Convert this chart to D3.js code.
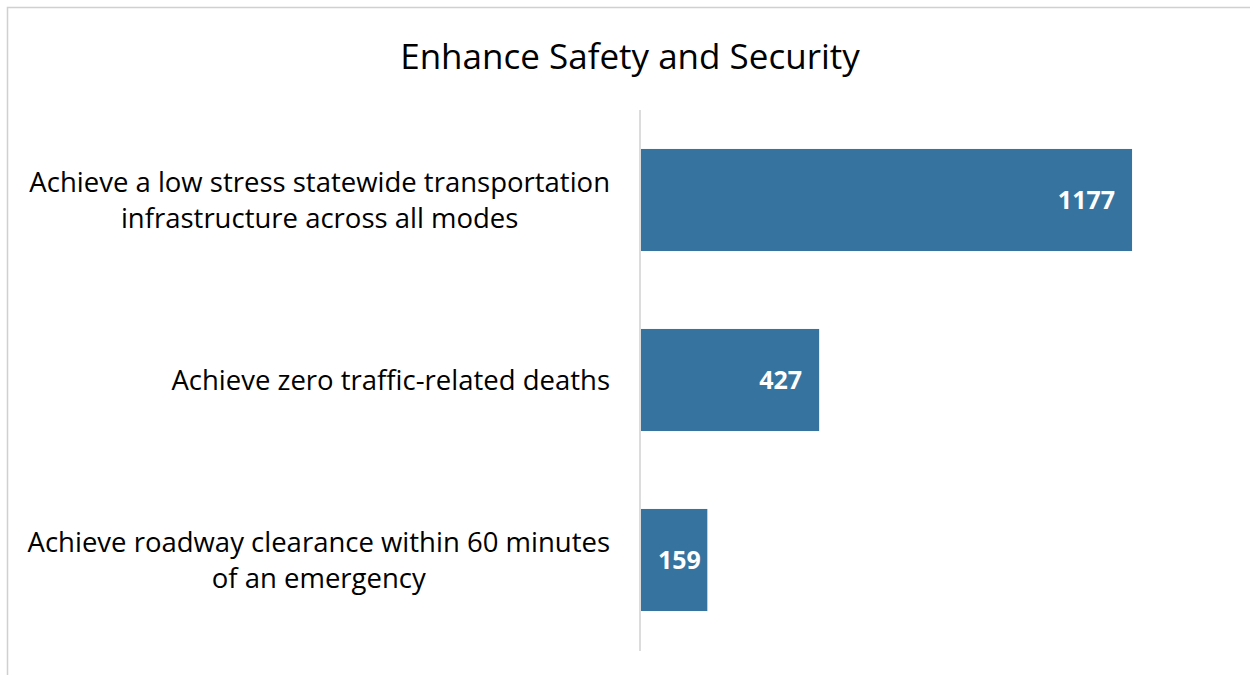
<!DOCTYPE html>
<html>
<head>
    <script src="https://cdn.jsdelivr.net/npm/d3@7"></script>
    <style>
        body { margin: 0; background: #fff; }
        svg { display: block; font-family: "Open Sans", "Noto Sans", sans-serif; }
    </style>
</head>
<body>
    <svg id="mainsvg"></svg>
    <script type="text/javascript">
    // data
    const categories = [
        ["Achieve a low stress statewide transportation", "infrastructure across all modes"],
        ["Achieve zero traffic-related deaths"],
        ["Achieve roadway clearance within 60 minutes", "of an emergency"]
    ];
    const values = [1177, 427, 159];
    const title = "Enhance Safety and Security";

    // chart settings
    const width = 1250, height = 675;
    const barColor = "#36739f";

    const svg = d3.select("#mainsvg")
        .attr("width", width)
        .attr("height", height);

    // frame
    svg.append("rect")
        .attr("x", 7.5).attr("y", 7.5)
        .attr("width", width + 10).attr("height", height + 10)
        .attr("fill", "none")
        .attr("stroke", "#d0d0d0")
        .attr("stroke-width", 1.5);

    svg.append("text")
        .attr("x", 630).attr("y", 57)
        .attr("dy", "0.35em")
        .attr("text-anchor", "middle")
        .attr("font-size", 35)
        .attr("fill", "#000")
        .text(title);

    // scales
    const x = d3.scaleLinear([0, 1400], [641, 641 + 1400 * 0.4172]);
    const y = d3.scaleBand()
        .domain(d3.range(values.length))
        .range([110, 650])
        .paddingInner(0.433)
        .paddingOuter(0.2165);

    // bars
    svg.append("g")
        .selectAll("rect")
        .data(values)
        .join("rect")
        .attr("x", x(0))
        .attr("y", (d, i) => y(i))
        .attr("width", d => x(d) - x(0))
        .attr("height", y.bandwidth())
        .attr("fill", barColor);

    // axis line
    svg.append("line")
        .attr("x1", 640).attr("x2", 640)
        .attr("y1", 110).attr("y2", 651)
        .attr("stroke", "#d0d0d0")
        .attr("stroke-width", 1.5);

    // category labels: block right-aligned at 610, lines centred in block
    const lh = 36, labelRight = 610;
    svg.append("g")
        .selectAll("text")
        .data(categories)
        .join("text")
        .attr("text-anchor", "middle")
        .attr("font-size", 27.5)
        .attr("fill", "#000")
        .each(function(lines, i) {
            const cy = y(i) + y.bandwidth() / 2;
            const t = d3.select(this);
            const spans = lines.map((line, j) => t.append("tspan")
                .attr("y", cy + (j - (lines.length - 1) / 2) * lh)
                .attr("dy", "0.35em")
                .text(line));
            const w = d3.max(spans, s => s.node().getComputedTextLength());
            spans.forEach(s => s.attr("x", labelRight - w / 2));
        });

    // value labels (inside end, but never past the bar start)
    const pad = 17;
    svg.append("g")
        .selectAll("text")
        .data(values)
        .join("text")
        .attr("y", (d, i) => y(i) + y.bandwidth() / 2)
        .attr("dy", "0.35em")
        .attr("text-anchor", "end")
        .attr("font-size", 25)
        .attr("font-weight", "bold")
        .attr("fill", "#fff")
        .text(d => d)
        .attr("x", function(d) {
            const w = this.getComputedTextLength();
            return Math.max(x(d) - pad, x(0) + pad + w);
        });
    </script>
</body>
</html>
